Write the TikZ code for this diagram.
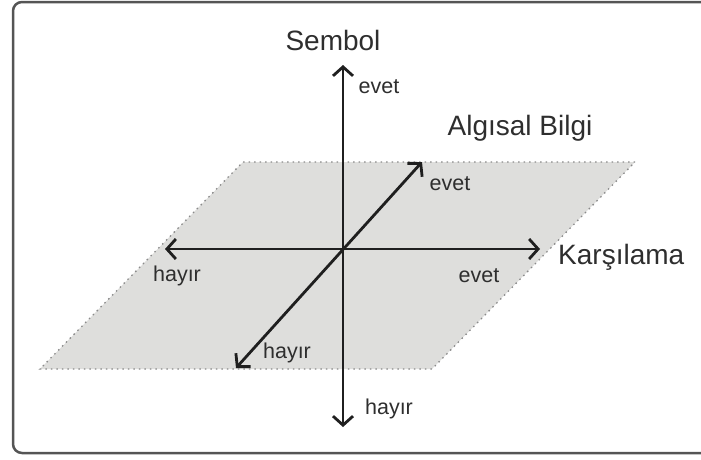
\documentclass[tikz,border=0pt]{standalone}
\usepackage{fontspec}
\setmainfont{Liberation Sans}
\usetikzlibrary{arrows.meta}
\definecolor{txt}{HTML}{2E2E2E}
\definecolor{planefill}{HTML}{DEDEDC}
\definecolor{planeedge}{HTML}{8A8A8A}
\definecolor{framecol}{HTML}{555555}
\tikzset{
  axis/.style={line width=2.8pt, draw=black!88, {Straight Barb[length=9pt,width=20pt,line width=2.8pt]}-{Straight Barb[length=9pt,width=20pt,line width=2.8pt]}},
  big/.style={text=txt, font=\fontsize{28}{32}\selectfont, inner sep=0pt},
  small/.style={text=txt, font=\fontsize{21.5}{25}\selectfont, inner sep=0pt},
  plane/.style={fill=planefill, draw=planeedge, line width=1.3pt, dash pattern=on 1.5pt off 4pt},
  frame/.style={draw=framecol, line width=2.5pt, rounded corners=9pt}
}
\begin{document}
\begin{tikzpicture}[x=1pt,y=-1pt]
\useasboundingbox (0,0) rectangle (701,459);
\clip (0,0) rectangle (701,459);
\draw[frame] (13,2) rectangle (712,453);
% plane
\coordinate (p1) at (243,162);
\coordinate (p2) at (635,162);
\coordinate (p3) at (432,369);
\coordinate (p4) at (40,369);
\path[plane] (p1) -- (p2) -- (p3) -- (p4) -- cycle;
% axis ends
\coordinate (O) at (343,249);
\coordinate (top) at (343,65);
\coordinate (bot) at (343,427);
\coordinate (lft) at (165,249);
\coordinate (rgt) at (540,249);
\coordinate (dlo) at (236,368);
\coordinate (dhi) at (422,162);
\draw[axis] (bot) -- (top);
\draw[axis] (lft) -- (rgt);
\draw[axis] (dlo) -- (dhi);
% labels
\node[big] (sembol) at (333,40) {Sembol};
\node[big] (algisal) at (520,128) {Algısal Bilgi};
\node[big, anchor=west] (karsilama) at (558,257) {Karşılama};
\node[small] (evet1) at (379,87) {evet};
\node[small] (evet2) at (450,184) {evet};
\node[small] (evet3) at (479,276) {evet};
\node[small] (hayir1) at (177,276) {hayır};
\node[small] (hayir2) at (287,353) {hayır};
\node[small] (hayir3) at (389,409) {hayır};
\end{tikzpicture}
\end{document}
